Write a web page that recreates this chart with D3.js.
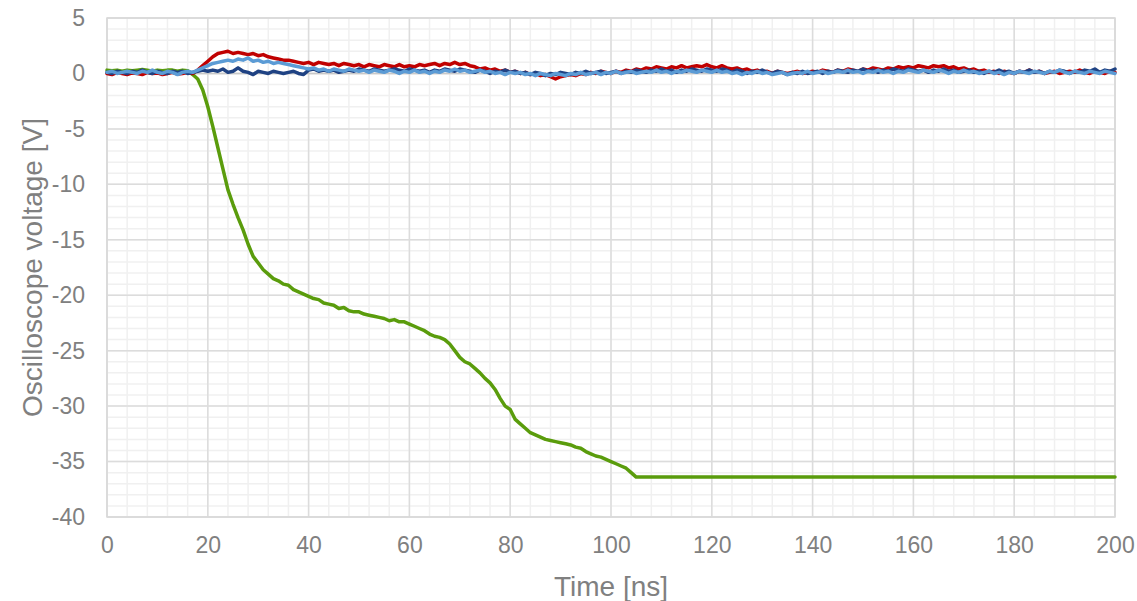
<!DOCTYPE html>
<html>
<head>
<meta charset="utf-8">
<script src="https://cdn.jsdelivr.net/npm/d3@7"></script>
<style>
  body { margin: 0; background: #fff; }
  text { font-family: 'Liberation Sans', Arial, sans-serif; }
</style>
</head>
<body>
<div id="chart"></div>
<script>
// time axis, 1 ns steps (0..200)
const timeNs = d3.range(0, 201)

// green trace: values up to 105 ns, then it holds flat to 200 ns
const greenT = d3.range(0, 106).concat([200])
const greenV = [
  0.3, 0.25, 0.3, 0.2, 0.3, 0.25, 0.3, 0.35, 0.3, 0.2, 0.3, 0.25, 0.3, 0.3, 0.2, 0.3, 0.25,
  -0.1, -0.5, -1.5, -3.0, -4.8, -6.7, -8.6, -10.5, -11.8, -13.0, -14.1, -15.4, -16.5, -17.1,
  -17.7, -18.1, -18.5, -18.7, -19.0, -19.1, -19.5, -19.7, -19.9, -20.1, -20.3, -20.4, -20.7,
  -20.8, -20.9, -21.2, -21.1, -21.4, -21.5, -21.5, -21.7, -21.8, -21.9, -22.0, -22.1, -22.3,
  -22.2, -22.4, -22.4, -22.6, -22.8, -23.0, -23.2, -23.5, -23.7, -23.8, -24.0, -24.4, -25.0,
  -25.6, -26.0, -26.2, -26.6, -27.0, -27.5, -27.9, -28.5, -29.3, -30.0, -30.3, -31.2, -31.6,
  -32.0, -32.4, -32.6, -32.8, -33.0, -33.1, -33.2, -33.3, -33.4, -33.5, -33.7, -33.8, -34.1,
  -34.3, -34.5, -34.6, -34.8, -35.0, -35.2, -35.4, -35.6, -36.0, -36.4,
  -36.4
]

const redV = [
  0.0, -0.1, 0.1, 0.0, -0.1, 0.05, 0.0, -0.1, 0.1, 0.0, 0.05, -0.1, 0.0, 0.1, -0.05, 0.0, 0.1, 0.0,
  0.3, 0.7, 1.1, 1.5, 1.8, 1.9, 2.0, 1.8, 1.9, 1.8, 1.7, 1.8, 1.6, 1.7, 1.5, 1.4, 1.3, 1.2, 1.2,
  1.1, 1.0, 0.9, 1.0, 0.8, 1.0, 0.9, 0.8, 0.9, 0.7, 0.9, 0.8, 0.7, 0.8, 0.6, 0.8, 0.7, 0.6, 0.8,
  0.7, 0.6, 0.8, 0.6, 0.7, 0.6, 0.8, 0.7, 0.8, 0.9, 0.7, 0.9, 0.8, 1.0, 0.8, 0.9, 0.7, 0.6, 0.4,
  0.5, 0.3, 0.4, 0.2, 0.3, 0.1, 0.2, 0.0, 0.1, -0.1, 0.0, -0.2, -0.1, -0.3, -0.5, -0.3, -0.2,
  -0.1, -0.2, 0.0, -0.1, 0.1, 0.0, 0.2, 0.1, 0.0, 0.2, 0.1, 0.3, 0.2, 0.4, 0.3, 0.5, 0.4, 0.6,
  0.5, 0.4, 0.6, 0.5, 0.7, 0.5, 0.6, 0.7, 0.6, 0.8, 0.6, 0.5, 0.7, 0.5, 0.4, 0.5, 0.3, 0.4, 0.2,
  0.3, 0.1, 0.2, 0.0, 0.2, 0.1, 0.0, 0.1, 0.2, 0.0, 0.1, 0.2, 0.1, 0.3, 0.2, 0.1, 0.3, 0.2, 0.4,
  0.3, 0.2, 0.4, 0.3, 0.5, 0.4, 0.3, 0.5, 0.4, 0.6, 0.5, 0.6, 0.5, 0.7, 0.6, 0.5, 0.7, 0.6, 0.7,
  0.5, 0.6, 0.4, 0.5, 0.3, 0.4, 0.2, 0.3, 0.1, 0.2, 0.0, 0.2, 0.1, 0.0, 0.2, 0.1, 0.3, 0.1, 0.2,
  0.0, 0.1, 0.2, 0.0, 0.1, 0.2, 0.1, 0.3, 0.1, 0.0, 0.2, 0.1, 0.0, 0.2, 0.1
]

const navyV = [
  0.1, 0.0, 0.2, 0.1, 0.0, 0.2, 0.1, 0.3, 0.1, 0.0, 0.2, 0.1, 0.0, 0.2, 0.1, 0.2, 0.0, 0.1,
  0.2, 0.3, 0.2, 0.3, 0.2, 0.4, 0.1, 0.2, 0.5, 0.2, 0.1, -0.1, 0.2, 0.1, 0.0, 0.2, 0.1, 0.0,
  0.1, 0.2, 0.0, -0.1, 0.3, 0.4, 0.2, 0.3, 0.2, 0.3, 0.1, 0.2, 0.3, 0.2, 0.4, 0.3, 0.2, 0.4,
  0.3, 0.2, 0.3, 0.4, 0.3, 0.2, 0.4, 0.3, 0.2, 0.3, 0.1, 0.3, 0.2, 0.4, 0.3, 0.2, 0.4, 0.3,
  0.2, 0.1, 0.3, 0.2, 0.0, 0.2, 0.1, 0.3, 0.1, 0.2, 0.0, 0.1, -0.1, 0.1, 0.0, -0.2, 0.0, -0.1,
  0.1, 0.0, -0.1, 0.1, 0.0, 0.2, 0.0, 0.1, 0.2, 0.0, 0.1, 0.2, 0.0, 0.2, 0.1, 0.3, 0.2, 0.1,
  0.3, 0.2, 0.4, 0.2, 0.3, 0.1, 0.3, 0.2, 0.4, 0.3, 0.2, 0.4, 0.3, 0.2, 0.4, 0.3, 0.1, 0.3,
  0.2, 0.0, 0.2, 0.1, 0.3, 0.1, 0.0, 0.2, 0.1, -0.1, 0.1, 0.0, 0.2, 0.0, 0.1, 0.2, 0.0, 0.2,
  0.1, 0.3, 0.2, 0.1, 0.3, 0.2, 0.4, 0.2, 0.3, 0.1, 0.3, 0.2, 0.4, 0.3, 0.2, 0.4, 0.3, 0.2,
  0.3, 0.1, 0.3, 0.2, 0.4, 0.2, 0.3, 0.1, 0.2, 0.3, 0.1, 0.2, 0.0, 0.2, 0.1, 0.3, 0.1, 0.2,
  0.0, 0.2, 0.1, 0.3, 0.1, 0.2, 0.0, 0.2, 0.1, 0.3, 0.2, 0.0, 0.2, 0.1, 0.3, 0.2, 0.4, 0.1,
  0.3, 0.2, 0.4
]

const lightV = [
  0.1, 0.2, 0.0, 0.1, 0.2, 0.1, 0.0, 0.2, 0.1, 0.3, 0.1, 0.0, 0.2, 0.1, -0.1, 0.1, 0.2, 0.1,
  0.3, 0.5, 0.7, 0.9, 1.0, 1.1, 1.2, 1.1, 1.3, 1.2, 1.4, 1.1, 1.2, 1.0, 1.1, 0.9, 1.0, 0.9,
  0.8, 0.7, 0.6, 0.5, 0.4, 0.5, 0.3, 0.4, 0.2, 0.4, 0.3, 0.2, 0.4, 0.3, 0.2, 0.3, 0.1, 0.3,
  0.2, 0.1, 0.3, 0.2, 0.0, 0.2, 0.1, 0.3, 0.1, 0.2, 0.0, 0.2, 0.1, 0.3, 0.2, 0.4, 0.2, 0.3,
  0.1, 0.2, 0.3, 0.1, 0.2, 0.0, 0.1, -0.1, 0.1, 0.0, 0.1, -0.1, 0.0, -0.2, 0.0, -0.1, -0.2,
  0.0, -0.1, -0.2, 0.0, -0.1, 0.1, -0.1, 0.0, 0.1, -0.1, 0.1, 0.0, 0.2, 0.0, 0.1, 0.2, 0.0,
  0.1, 0.2, 0.1, 0.3, 0.1, 0.2, 0.0, 0.2, 0.1, 0.3, 0.2, 0.1, 0.3, 0.2, 0.1, 0.3, 0.1, 0.2,
  0.0, 0.1, -0.1, 0.1, 0.0, 0.2, 0.0, 0.1, -0.1, 0.0, 0.1, -0.1, 0.0, 0.1, 0.0, 0.2, 0.0,
  0.1, 0.2, 0.0, 0.1, 0.2, 0.1, 0.3, 0.1, 0.2, 0.0, 0.2, 0.1, 0.3, 0.1, 0.2, 0.0, 0.2, 0.1,
  0.3, 0.2, 0.1, 0.3, 0.2, 0.1, 0.3, 0.2, 0.0, 0.2, 0.1, 0.3, 0.1, 0.2, 0.0, 0.1, 0.2, 0.0,
  0.1, -0.1, 0.1, 0.0, 0.2, 0.1, 0.0, 0.2, 0.1, 0.0, 0.2, 0.1, 0.3, 0.1, 0.0, 0.2, 0.1, 0.0,
  0.2, 0.1, 0.0, 0.2, 0.1, 0.0
]

const xTicks = [0, 20, 40, 60, 80, 100, 120, 140, 160, 180, 200]
const yTicks = [5, 0, -5, -10, -15, -20, -25, -30, -35, -40]

const series = [
  { name: 'green', color: '#5a9c0c', t: greenT, v: greenV },
  { name: 'red', color: '#c00000', t: timeNs, v: redV },
  { name: 'navy', color: '#1f4283', t: timeNs, v: navyV },
  { name: 'light', color: '#5b9bd5', t: timeNs, v: lightV }
]

const width = 1137
const height = 601
const margin = { top: 18, right: 22, bottom: 84, left: 107 }
const innerW = width - margin.left - margin.right
const innerH = height - margin.top - margin.bottom

const svg = d3.select('#chart').append('svg')
  .attr('width', width)
  .attr('height', height)

const g = svg.append('g')
  .attr('transform', 'translate(' + margin.left + ',' + margin.top + ')')

const x = d3.scaleLinear().domain([0, 200]).range([0, innerW])
const y = d3.scaleLinear().domain([-40, 5]).range([innerH, 0])

// minor grid
g.append('g')
  .selectAll('line')
  .data(d3.range(0, 201, 4))
  .enter().append('line')
    .attr('x1', d => x(d)).attr('x2', d => x(d))
    .attr('y1', 0).attr('y2', innerH)
    .attr('stroke', '#f0f0f0').attr('stroke-width', 1.5)

g.append('g')
  .selectAll('line')
  .data(d3.range(-40, 6, 1))
  .enter().append('line')
    .attr('x1', 0).attr('x2', innerW)
    .attr('y1', d => y(d)).attr('y2', d => y(d))
    .attr('stroke', '#f0f0f0').attr('stroke-width', 1.5)

// major grid
g.append('g')
  .selectAll('line')
  .data(xTicks)
  .enter().append('line')
    .attr('x1', d => x(d)).attr('x2', d => x(d))
    .attr('y1', 0).attr('y2', innerH)
    .attr('stroke', '#dcdcdc').attr('stroke-width', 1.5)

g.append('g')
  .selectAll('line')
  .data(yTicks)
  .enter().append('line')
    .attr('x1', 0).attr('x2', innerW)
    .attr('y1', d => y(d)).attr('y2', d => y(d))
    .attr('stroke', '#dcdcdc').attr('stroke-width', 1.5)

// zero line / frame
g.append('line')
  .attr('x1', 0).attr('x2', innerW)
  .attr('y1', y(0)).attr('y2', y(0))
  .attr('stroke', '#c8c8c8').attr('stroke-width', 1.5)

g.append('rect')
  .attr('width', innerW).attr('height', innerH)
  .attr('fill', 'none')
  .attr('stroke', '#d9d9d9').attr('stroke-width', 1.5)

// traces
const line = d3.line()
  .x(d => x(d[0]))
  .y(d => y(d[1]))

g.append('g')
  .selectAll('path')
  .data(series)
  .enter().append('path')
    .attr('d', s => line(s.t.map((t, i) => [t, s.v[i]])))
    .attr('fill', 'none')
    .attr('stroke', s => s.color)
    .attr('stroke-width', 3.5)
    .attr('stroke-linejoin', 'round')
    .attr('stroke-linecap', 'round')

// axes (labels only), plain hyphen for negatives like the original
const fmt = d => String(d)

const xAxis = g.append('g')
  .attr('transform', 'translate(0,' + innerH + ')')
  .call(d3.axisBottom(x).tickValues(xTicks).tickFormat(fmt).tickSize(0).tickPadding(20))
xAxis.select('.domain').remove()
xAxis.selectAll('text')
  .style('font-size', '23px')
  .style('fill', '#808080')

const yAxis = g.append('g')
  .call(d3.axisLeft(y).tickValues(yTicks).tickFormat(fmt).tickSize(0).tickPadding(22))
yAxis.select('.domain').remove()
yAxis.selectAll('text')
  .style('font-size', '23px')
  .style('fill', '#808080')

// axis titles
svg.append('text')
  .attr('x', margin.left + innerW / 2)
  .attr('y', 596)
  .attr('text-anchor', 'middle')
  .style('font-size', '28px')
  .style('fill', '#808080')
  .text('Time [ns]')

svg.append('text')
  .attr('transform', 'translate(42,' + (margin.top + innerH / 2) + ') rotate(-90)')
  .attr('text-anchor', 'middle')
  .style('font-size', '28px')
  .style('fill', '#808080')
  .text('Oscilloscope voltage [V]')
</script>
</body>
</html>
